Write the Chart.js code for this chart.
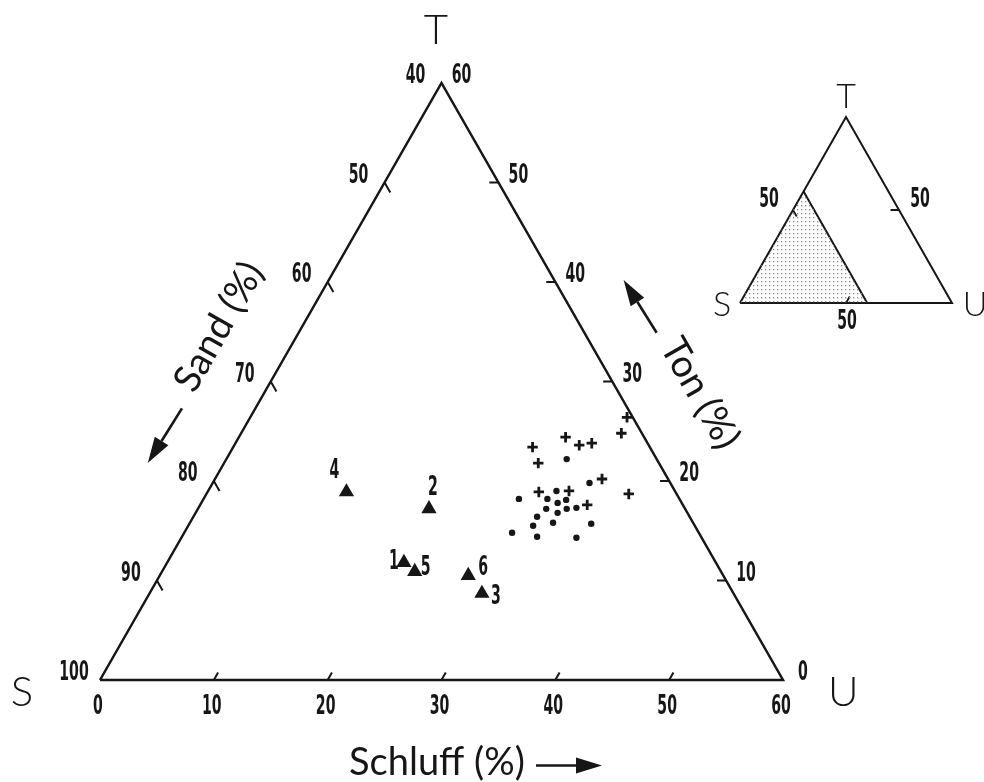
<!DOCTYPE html>
<html>
<head>
<meta charset="utf-8">
<script src="https://cdn.jsdelivr.net/npm/chart.js@4.4.1/dist/chart.umd.min.js"></script>
<style>
html, body { margin: 0; padding: 0; background: #fff; }
</style>
</head>
<body>
<canvas id="myChart" width="984" height="782"></canvas>
<script>
// Korngroessen: Schluff (silt) and Ton (clay) in %, Sand is the rest
const triNames = ['1', '2', '3', '4', '5', '6'];
const triSilt = [20.8, 20.3, 29.2, 12.2, 22.2, 27.1];
const triClay = [11.8, 17.2, 8.7, 18.9, 10.9, 10.5];

const crossSilt = [26.3, 28.7, 30.3, 31.3, 27.6, 33.1, 33.4, 34.0, 29.1, 31.7, 34.0, 37.1];
const crossClay = [23.4, 24.4, 23.6, 23.8, 21.8, 26.4, 24.8, 20.2, 18.9, 19.0, 17.6, 18.7];

const dotSilt = [29.9, 33.1, 27.7, 30.2, 30.6, 31.9, 31.3, 30.6, 32.4, 33.2, 31.8, 30.2, 30.3, 31.9, 35.3, 28.8, 31.2, 34.7];
const dotClay = [22.2, 19.8, 18.2, 18.2, 19.0, 18.1, 17.8, 17.2, 17.2, 17.3, 16.8, 16.4, 15.5, 15.8, 15.7, 14.8, 14.4, 14.3];

const siltTicks = [0, 10, 20, 30, 40, 50, 60];
const clayTicks = [0, 10, 20, 30, 40, 50, 60];
const sandTicks = [40, 50, 60, 70, 80, 90, 100];
const insetTicks = [50];

// silt/clay -> cartesian diagram units (x along base, y = clay)
function toXY(silt, clay) { return { x: silt + clay / 2, y: clay }; }

const W = 984, H = 782;
// where the main triangle sits: S corner and size of 1 %
const mainOrigin = { x: 100, y: 680 }, mainKx = 683 / 60, mainKy = 597 / 60;
const insetOrigin = { x: 740, y: 303 }, insetKx = 2.12, insetKy = 1.86;

// stipple for the shaded part of the small triangle
const pc = document.createElement('canvas');
pc.width = 4; pc.height = 4;
const pctx = pc.getContext('2d');
pctx.fillStyle = '#8a8a8a';
pctx.fillRect(1, 1, 1.3, 1.3);
const stipple = document.getElementById('myChart').getContext('2d').createPattern(pc, 'repeat');

// tick segments (null between segments)
const tickData = [];
siltTicks.slice(1, -1).forEach(s => {
  tickData.push(toXY(s, 0), toXY(s, 0.75), { x: s, y: null });
});
clayTicks.slice(1, -1).forEach(c => {
  tickData.push(toXY(60 - c, c), toXY(60 - c - 0.8, c), { x: 0, y: null });
});
sandTicks.slice(1, -1).forEach(a => {
  const c = 100 - a;
  tickData.push(toXY(0, c), toXY(1.0, c - 1.0), { x: 0, y: null });
});

const insetTickData = [];
insetTicks.forEach(v => {
  insetTickData.push(toXY(v, 0), toXY(v, 3.5), { x: 0, y: null });
  insetTickData.push(toXY(100 - v, v), toXY(100 - v - 4, v), { x: 0, y: null });
  insetTickData.push(toXY(0, v), toXY(3.5, v - 3.5), { x: 0, y: null });
});

const ink = '#161616';

const textPlugin = {
  id: 'ternaryText',
  afterDatasetsDraw(chart) {
    const ctx = chart.ctx;
    const xs = chart.scales.x, ys = chart.scales.y;
    const x2 = chart.scales.x2, y2 = chart.scales.y2;
    const P = (x, y) => [xs.getPixelForValue(x), ys.getPixelForValue(y)];
    const Q = (x, y) => [x2.getPixelForValue(x), y2.getPixelForValue(y)];
    const numFont = 'bold 27px "DejaVu Sans Condensed", "DejaVu Sans", sans-serif';
    const squeeze = 0.58;
    const bigFont = '300 42px Lato, "Open Sans", sans-serif';
    const titleFont = '38px Lato, "Open Sans", sans-serif';
    const insetFont = '300 34px Lato, "Open Sans", sans-serif';

    ctx.save();
    ctx.fillStyle = ink;
    ctx.strokeStyle = ink;
    ctx.textAlign = 'center';
    ctx.textBaseline = 'middle';

    function text(str, p, dx, dy, font, sx) {
      ctx.save();
      ctx.translate(p[0] + dx, p[1] + dy);
      ctx.scale(sx || 1, 1);
      ctx.font = font;
      ctx.fillText(str, 0, 0);
      ctx.restore();
    }
    function rotText(str, p, ang, font) {
      ctx.save();
      ctx.font = font;
      ctx.translate(p[0], p[1]);
      ctx.rotate(ang);
      ctx.fillText(str, 0, 0);
      ctx.restore();
    }
    function arrow(a, b) {
      const ang = Math.atan2(b[1] - a[1], b[0] - a[0]);
      const hl = 26, hw = 8;
      const bx = b[0] - hl * Math.cos(ang), by = b[1] - hl * Math.sin(ang);
      ctx.lineWidth = 2.6;
      ctx.beginPath();
      ctx.moveTo(a[0], a[1]);
      ctx.lineTo(bx, by);
      ctx.stroke();
      ctx.beginPath();
      ctx.moveTo(b[0], b[1]);
      ctx.lineTo(bx + hw * Math.sin(ang), by - hw * Math.cos(ang));
      ctx.lineTo(bx - hw * Math.sin(ang), by + hw * Math.cos(ang));
      ctx.closePath();
      ctx.fill();
    }

    // tick labels
    siltTicks.forEach(s => text(String(s), P(s, 0), -2, 27, numFont, squeeze));
    clayTicks.forEach(c => text(String(c), P(60 - c / 2, c), 20, -7, numFont, squeeze));
    sandTicks.forEach(a => text(String(a), P((100 - a) / 2, 100 - a), -26, -7, numFont, squeeze));

    // corner letters
    text('S', P(-6.85, -1.3), 0, 0, bigFont);
    text('U', P(65.3, -1.3), 0, 0, bigFont);
    text('T', P(29.5, 65.3), 0, 0, bigFont);

    // axis titles
    const S = P(0, 0), T = P(30, 60), U = P(60, 0);
    const angL = Math.atan2(T[1] - S[1], T[0] - S[0]);
    const angR = Math.atan2(U[1] - T[1], U[0] - T[0]);
    rotText('Sand (%)', P(10.45, 35.5), angL, titleFont);
    arrow(P(7.2, 27.3), P(4.2, 21.8));
    rotText('Ton (%)', P(52.7, 28.8), angR, titleFont);
    arrow(P(48.9, 34.9), P(46.0, 40.2));
    text('Schluff (%)', P(29.6, -8.3), 0, 0, titleFont);
    arrow(P(38.3, -8.6), P(44.1, -8.6));

    // sample numbers beside the triangles
    const off = { '1': [-10, -1], '2': [4, -21], '3': [14, 4], '4': [-12, -21], '5': [11, -4], '6': [15, -8] };
    triNames.forEach((n, i) => {
      const xy = toXY(triSilt[i], triClay[i]);
      text(n, P(xy.x, xy.y), off[n][0], off[n][1], numFont, squeeze);
    });

    // inset labels
    text('T', Q(50, 110.8), 0, 0, insetFont);
    text('S', Q(-8.5, -1.1), 0, 0, insetFont);
    text('U', Q(110.9, -1.1), 0, 0, insetFont);
    text('50', Q(13.7, 55.4), 0, 0, numFont, squeeze);
    text('50', Q(84.9, 55.4), 0, 0, numFont, squeeze);
    text('50', Q(50.5, -10.2), 0, 0, numFont, squeeze);
    ctx.restore();
  }
};

const lineDs = (data, xAxisID, yAxisID, extra) => Object.assign({
  data: data, xAxisID: xAxisID, yAxisID: yAxisID,
  showLine: true, pointRadius: 0, borderColor: ink, borderWidth: 2.5,
  borderJoinStyle: 'miter', tension: 0, spanGaps: false, clip: false, fill: false
}, extra || {});

const config = {
  type: 'scatter',
  data: {
    datasets: [
      // stippled part of the inset: polyline S -> (clay 60) -> (silt 60), filled down to the base
      lineDs([toXY(0, 0), toXY(0, 60), toXY(60, 0)], 'x2', 'y2',
        { borderWidth: 0, fill: 'origin', backgroundColor: stipple }),
      lineDs([toXY(0, 0), toXY(60, 0), toXY(0, 60), toXY(0, 0)], 'x', 'y'),
      lineDs(tickData, 'x', 'y', { borderWidth: 2, borderJoinStyle: 'round' }),
      lineDs([toXY(0, 0), toXY(100, 0), toXY(0, 100), toXY(0, 0)], 'x2', 'y2', { borderWidth: 2 }),
      lineDs([toXY(0, 60), toXY(60, 0)], 'x2', 'y2', { borderWidth: 2 }),
      lineDs(insetTickData, 'x2', 'y2', { borderWidth: 1.8 }),
      {
        data: dotSilt.map((s, i) => toXY(s, dotClay[i])),
        pointStyle: 'circle', pointRadius: 3.2, backgroundColor: ink, borderWidth: 0, clip: false
      },
      {
        data: crossSilt.map((s, i) => toXY(s, crossClay[i])),
        pointStyle: 'cross', pointRadius: 5.2, borderColor: ink, borderWidth: 2.8, clip: false
      },
      {
        data: triSilt.map((s, i) => toXY(s, triClay[i])),
        pointStyle: 'triangle', pointRadius: 8.8, backgroundColor: ink, borderWidth: 0, clip: false
      }
    ]
  },
  options: {
    responsive: false,
    animation: false,
    events: [],
    layout: { padding: 0, autoPadding: false },
    scales: {
      x: {
        type: 'linear', display: false,
        min: -mainOrigin.x / mainKx, max: (W - mainOrigin.x) / mainKx
      },
      y: {
        type: 'linear', display: false,
        min: -(H - mainOrigin.y) / mainKy, max: mainOrigin.y / mainKy
      },
      x2: {
        type: 'linear', display: false, axis: 'x',
        min: -insetOrigin.x / insetKx, max: (W - insetOrigin.x) / insetKx
      },
      y2: {
        type: 'linear', display: false, axis: 'y',
        min: -(H - insetOrigin.y) / insetKy, max: insetOrigin.y / insetKy
      }
    },
    plugins: {
      legend: { display: false },
      tooltip: { enabled: false }
    }
  },
  plugins: [textPlugin]
};

var myChart = new Chart('myChart', config);
</script>
</body>
</html>
